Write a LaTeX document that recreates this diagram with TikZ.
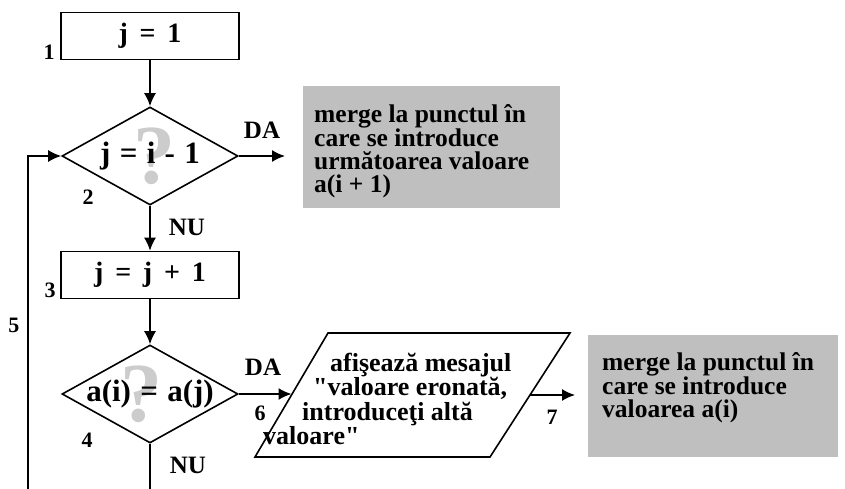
\documentclass[tikz,border=0pt]{standalone}
\usepackage{fontspec}
\setmainfont{Liberation Serif}
\usetikzlibrary{shapes.geometric,arrows.meta}
\newcommand{\boxfont}{\fontsize{28}{30}\selectfont\bfseries\spaceskip 0.42em\relax}
\newcommand{\condfont}{\fontsize{31}{33}\selectfont\bfseries\spaceskip 0.3em\relax}

\begin{document}
\begin{tikzpicture}[x=1pt,y=-1pt,
    every node/.style={font=\bfseries},
    box/.style={draw, line width=1.6pt, minimum width=178pt, minimum height=47pt, font=\boxfont},
    cond/.style={draw, diamond, line width=1.6pt, minimum width=176pt, minimum height=98pt, inner sep=0pt, aspect=1.8},
    qmark/.style={text=gray!40, font=\fontsize{84}{84}\selectfont\bfseries},
    ctext/.style={font=\condfont},
    tag/.style={font=\fontsize{22}{24}\selectfont\bfseries, inner sep=0pt},
    yesno/.style={font=\fontsize{25}{26}\selectfont\bfseries, inner sep=0pt},
    ptext/.style={align=left, inner sep=0pt, font=\fontsize{26}{24.5}\selectfont\bfseries},
    note/.style={fill=gray!50},
    notetext/.style={align=left, inner sep=0pt, font=\fontsize{25.5}{23}\selectfont\bfseries},
    arr/.style={-{Latex[length=13pt,width=12pt]}, line width=1.6pt},
    wire/.style={line width=1.6pt}]
    \useasboundingbox (0,0) rectangle (845,489);

    \node[box] (s1) at (150,36) {j = 1};
    \node[cond, label={[qmark,xshift=4pt]center:?}, label={[ctext]center:{j = i - 1}}] (c2) at (150,156) {};
    \node[box] (s3) at (150,275) {j = j + 1};
    \node[cond, label={[qmark,xshift=-9pt]center:?}, label={[ctext]center:{a(i) = a(j)}}] (c4) at (150,394) {};

    \coordinate (p1) at (255,457);
    \coordinate (p2) at (328,333);
    \coordinate (p3) at (570,333);
    \coordinate (p4) at (490,457);
    \coordinate (pw) at (291.5,395);
    \coordinate (pe) at (530,395);
    \draw[wire, line join=miter] (p1) -- (p2) -- (p3) -- (p4) -- cycle;
    \node[ptext, anchor=west] (msg) at (263,399) {\hspace*{67pt}afişează mesajul\\\hspace*{50pt}\textquotedbl valoare eronată,\\\hspace*{39pt}introduceţi altă\\valoare\textquotedbl};

    \node[note, minimum width=257pt, minimum height=121pt] (g1) at (431,147) {};
    \node[notetext, anchor=west] (t1) at (314,151) {merge la punctul în\\care se introduce\\următoarea valoare\\a(i + 1)};
    \node[note, minimum width=250pt, minimum height=122pt] (g2) at (713,396) {};
    \node[notetext, anchor=west] (t2) at (602,388) {merge la punctul în\\care se introduce\\valoarea a(i)};

    \coordinate (e2) at (285,156);
    \coordinate (e7) at (575,395);
    \coordinate (b4) at (150,489);
    \coordinate (b5) at (28,489);

    \draw[arr] (s1) -- (c2.north);
    \draw[arr] (c2.east) -- (e2);
    \draw[arr] (c2.south) -- (s3);
    \draw[arr] (s3) -- (c4.north);
    \draw[arr] (c4.east) -- (c4.east -| pw);
    \draw[arr] (pe) -- (e7);
    \draw[wire] (c4.south) -- (b4);
    \draw[arr] (b5) |- (c2.west);

    \node[tag] (n1) at (49,52) {1};
    \node[tag] (n2) at (88,197) {2};
    \node[tag] (n3) at (50,290) {3};
    \node[tag] (n4) at (87,440) {4};
    \node[tag] (n5) at (14,325) {5};
    \node[tag] (n6) at (260,413) {6};
    \node[tag] (n7) at (552,417) {7};
    \node[yesno] (da2) at (262,130) {DA};
    \node[yesno] (nu2) at (187,227) {NU};
    \node[yesno] (da4) at (263,367) {DA};
    \node[yesno] (nu4) at (188,465) {NU};
\end{tikzpicture}
\end{document}
